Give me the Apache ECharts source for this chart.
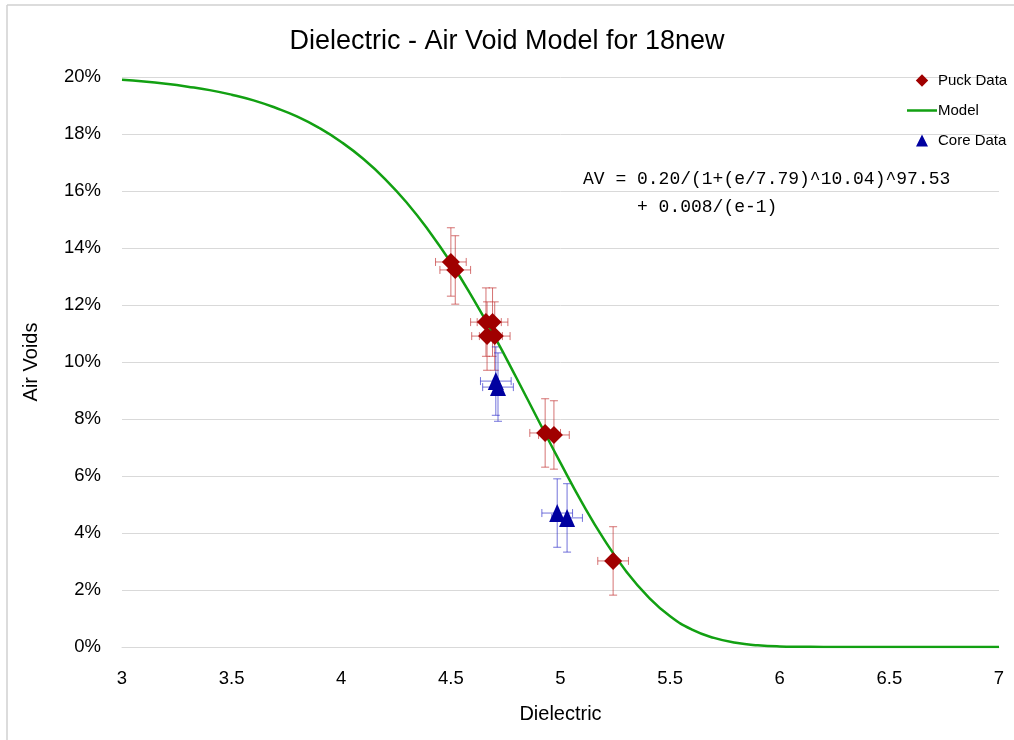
<!DOCTYPE html>
<html>
<head>
<meta charset="utf-8">
<script src="https://cdn.jsdelivr.net/npm/echarts@6/dist/echarts.min.js"></script>
<style>
html,body{margin:0;padding:0;background:#fff;}
#chart{width:1014px;height:740px;}
</style>
</head>
<body>
<div id="chart"></div>
<script>
// Model curve (dielectric, air voids)
const modelX = [3.0,3.1,3.2,3.3,3.4,3.5,3.6,3.7,3.8,3.9,4.0,4.1,4.2,4.3,4.4,4.5,4.6,4.7,4.8,4.9,5.0,5.1,5.2,5.3,5.4,5.5,5.6,5.7,5.8,5.9,6.0,6.1,6.2,6.4,6.6,6.8,7.0];
const modelY = [0.1990,0.1984,0.1976,0.1966,0.1954,0.1938,0.1918,0.1892,0.1861,0.1821,0.1772,0.1713,0.1642,0.1558,0.1460,0.1349,0.1224,0.1088,0.0943,0.0794,0.0646,0.0504,0.0376,0.0265,0.0176,0.0108,0.0061,0.0032,0.0015,0.0006,0.0002,0.0001,0.0000,0.0000,0.0000,0.0000,0.0000];

// Puck data
const puckX = [4.50,4.52,4.66,4.69,4.665,4.70,4.93,4.97,5.24];
const puckY = [0.1351,0.1323,0.1140,0.1140,0.1091,0.1091,0.0751,0.0744,0.0302];
const puckXErr = [0.07,0.07,0.07,0.07,0.07,0.07,0.07,0.07,0.07];
const puckYErr = [0.012,0.012,0.012,0.012,0.012,0.012,0.012,0.012,0.012];

// Core data
const coreX = [4.705,4.715,4.985,5.03];
const coreY = [0.0933,0.0912,0.0470,0.0453];
const coreXErr = [0.07,0.07,0.07,0.07];
const coreYErr = [0.012,0.012,0.012,0.012];

const modelData = modelX.map((x,i)=>[x, modelY[i]]);
const puckData = puckX.map((x,i)=>[x, puckY[i]]);
const coreData = coreX.map((x,i)=>[x, coreY[i]]);
const puckErr = puckX.map((x,i)=>[x, puckY[i], puckXErr[i], puckYErr[i]]);
const coreErr = coreX.map((x,i)=>[x, coreY[i], coreXErr[i], coreYErr[i]]);

function errRender(color){
  return function(params, api){
    const x = api.value(0), y = api.value(1), xe = api.value(2), ye = api.value(3);
    const top = api.coord([x, y + ye]);
    const bot = api.coord([x, y - ye]);
    const lft = api.coord([x - xe, y]);
    const rgt = api.coord([x + xe, y]);
    const c = 4;
    const st = {stroke: color, lineWidth: 1};
    return {
      type: 'group',
      children: [
        {type:'line', shape:{x1:top[0],y1:top[1],x2:bot[0],y2:bot[1]}, style:st},
        {type:'line', shape:{x1:top[0]-c,y1:top[1],x2:top[0]+c,y2:top[1]}, style:st},
        {type:'line', shape:{x1:bot[0]-c,y1:bot[1],x2:bot[0]+c,y2:bot[1]}, style:st},
        {type:'line', shape:{x1:lft[0],y1:lft[1],x2:rgt[0],y2:rgt[1]}, style:st},
        {type:'line', shape:{x1:lft[0],y1:lft[1]-c,x2:lft[0],y2:lft[1]+c}, style:st},
        {type:'line', shape:{x1:rgt[0],y1:rgt[1]-c,x2:rgt[0],y2:rgt[1]+c}, style:st}
      ]
    };
  };
}

// legend icons padded to a 30x13 box so they keep their shape
const diamondIcon = 'path://M0,0 L0.01,0 L0.01,0.01 Z M30,13 L29.99,13 L29.99,12.99 Z M15,0.3 L21.2,6.5 L15,12.7 L8.8,6.5 Z';
const triangleIcon = 'path://M0,0 L0.01,0 L0.01,0.01 Z M30,13 L29.99,13 L29.99,12.99 Z M15,0.5 L21,12.5 L9,12.5 Z';
const lineIcon = 'path://M0,0 L0.01,0 L0.01,0.01 Z M30,13 L29.99,13 L29.99,12.99 Z M0,5.3 L30,5.3 L30,7.7 L0,7.7 Z';

const FONT = 'Liberation Sans';
const chart = echarts.init(document.getElementById('chart'), null, {renderer:'canvas'});
chart.setOption({
  backgroundColor: '#ffffff',
  animation: false,
  title: {
    text: 'Dielectric - Air Void Model for 18new',
    left: 'center',
    top: 23,
    textStyle: {fontFamily: FONT, fontSize: 27, fontWeight: 'normal', color: '#000'}
  },
  legend: {
    orient: 'vertical',
    left: 902,
    top: 68,
    itemWidth: 30,
    itemHeight: 13,
    itemGap: 15,
    data: [
      {name:'Puck Data', icon: diamondIcon},
      {name:'Model', icon: lineIcon},
      {name:'Core Data', icon: triangleIcon}
    ],
    textStyle: {fontFamily: FONT, fontSize: 15, color: '#000', padding:[0,0,0,-4]}
  },
  grid: {left: 122, right: 15, top: 77, bottom: 93, containLabel: false},
  xAxis: {
    type: 'value',
    min: 3, max: 7, interval: 0.5,
    name: 'Dielectric',
    nameLocation: 'middle',
    nameGap: 57,
    nameTextStyle: {fontFamily: FONT, fontSize: 20, color: '#000'},
    axisLine: {show: true, lineStyle: {color: '#d9d9d9'}},
    axisTick: {show: false},
    splitLine: {show: false},
    axisLabel: {fontFamily: FONT, fontSize: 18.5, color: '#000', margin: 22,
      formatter: v => String(+v.toFixed(1))}
  },
  yAxis: {
    type: 'value',
    min: 0, max: 0.2, interval: 0.02,
    name: 'Air Voids',
    nameLocation: 'middle',
    nameGap: 81,
    nameTextStyle: {fontFamily: FONT, fontSize: 20, color: '#000'},
    axisLine: {show: false},
    axisTick: {show: false},
    splitLine: {show: true, lineStyle: {color: '#d9d9d9', width: 1}},
    axisLabel: {fontFamily: FONT, fontSize: 18.5, color: '#000', margin: 21,
      formatter: v => Math.round(v*100) + '%'}
  },
  graphic: [
    {type:'line', shape:{x1:7,y1:5,x2:1014,y2:5}, style:{stroke:'#d0d0d0', lineWidth:1.5}, silent:true},
    {type:'line', shape:{x1:7,y1:5,x2:7,y2:740}, style:{stroke:'#d0d0d0', lineWidth:1.5}, silent:true},
    {type:'text', left: 583, top: 170, style:{text:'AV = 0.20/(1+(e/7.79)^10.04)^97.53', font:'18px "Liberation Mono"', fill:'#000'}},
    {type:'text', left: 637, top: 198, style:{text:'+ 0.008/(e-1)', font:'18px "Liberation Mono"', fill:'#000'}}
  ],
  series: [
    {
      type: 'custom',
      name: 'puckErr',
      renderItem: errRender('rgba(190,40,40,0.65)'),
      data: puckErr,
      encode: {x: 0, y: 1},
      z: 3,
      silent: true
    },
    {
      type: 'custom',
      name: 'coreErr',
      renderItem: errRender('rgba(40,40,200,0.65)'),
      data: coreErr,
      encode: {x: 0, y: 1},
      z: 3,
      silent: true
    },
    {
      type: 'line',
      name: 'Model',
      data: modelData,
      smooth: true,
      symbol: 'none',
      lineStyle: {color: '#12A012', width: 2.5},
      itemStyle: {color: '#12A012'},
      z: 4
    },
    {
      type: 'scatter',
      name: 'Puck Data',
      data: puckData,
      symbol: 'diamond',
      symbolSize: 18,
      itemStyle: {color: '#A00000', opacity: 1},
      z: 5
    },
    {
      type: 'scatter',
      name: 'Core Data',
      data: coreData,
      symbol: 'triangle',
      symbolSize: [16,18],
      itemStyle: {color: '#0000A0', opacity: 1},
      z: 5
    }
  ]
});
</script>
</body>
</html>
